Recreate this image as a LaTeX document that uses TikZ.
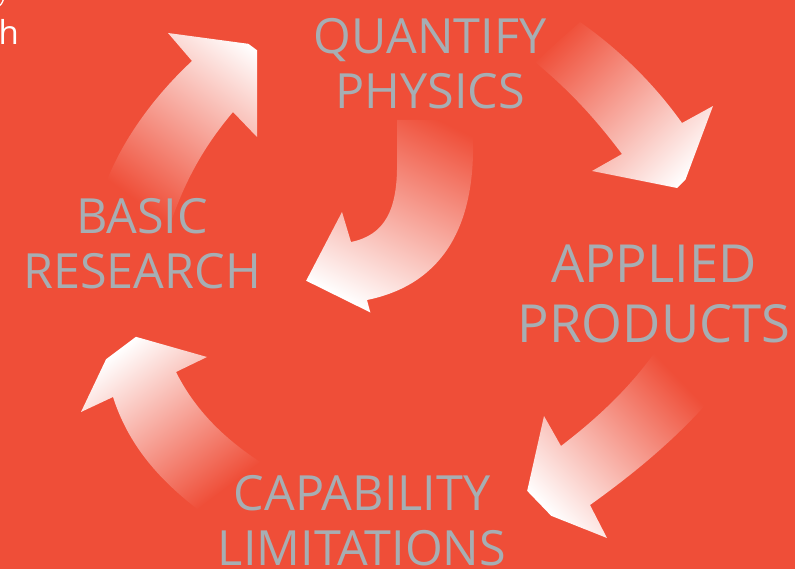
\documentclass[tikz,border=0pt]{standalone}
\usepackage{fontspec}
\setmainfont{Open Sans}
\definecolor{bg}{RGB}{239,78,56}
\definecolor{lbl}{RGB}{166,174,179}
\newcommand\fadearrow[4]{%
  \begin{scope}
    \clip #1;
    \begin{scope}[transform canvas={shift={#2},rotate=#3}]
      \shade[left color=bg,right color=white] (0,-300) rectangle (#4,300);
    \end{scope}
  \end{scope}}
\tikzset{
  lab/.style={text=lbl, align=center, inner sep=0pt, font=\fontsize{48.5}{55}\selectfont},
  labbig/.style={lab, font=\fontsize{52.5}{60}\selectfont}
}
\begin{document}
\begin{tikzpicture}[x=1pt,y=-1pt]
\useasboundingbox (0,0) rectangle (795,569);
\fill[bg] (0,0) rectangle (795,569);
\clip (0,0) rectangle (795,569);

% arrows
\fadearrow{(192,61) -- (168,33) -- (257,45) -- (257,137) -- (233,112) .. controls (205,145) and (185,180) .. (170,225) -- (100,200) .. controls (115,150) and (150,100) .. (192,61) -- cycle}{(135,200)}{53.4}{193}
\fadearrow{(682,123) -- (713,106) -- (682,189) -- (592,171) -- (622,154) .. controls (600,125) and (575,95) .. (535,62) -- (580,22) .. controls (620,50) and (655,85) .. (682,123) -- cycle}{(555,40)}{-45}{191}
\fadearrow{(397,120) -- (473,120) -- (473,140) .. controls (475,230) and (440,285) .. (367,300) -- (375,330) -- (306,281) -- (342,212) -- (351,242) .. controls (385,235) and (398,210) .. (397,160) -- cycle}{(435,118)}{-116.3}{203}
\fadearrow{(561,446) -- (544,416) -- (524,505) -- (607,538) -- (590,505) .. controls (625,480) and (670,445) .. (708,402) -- (655,352) .. controls (628,390) and (595,420) .. (561,446) -- cycle}{(680,380)}{-136.1}{187}
\fadearrow{(113,397) -- (81,412) -- (119,332) -- (207,357) -- (176,372) .. controls (195,410) and (225,440) .. (265,465) -- (205,515) .. controls (165,485) and (130,450) .. (113,397) -- cycle}{(230,485)}{126.9}{175}

% labels
\node[lab] (qp) at (430,64) {QUANTIFY\\PHYSICS};
\node[lab] (br) at (142,244) {BASIC\\RESEARCH};
\node[labbig] (ap) at (654,294) {APPLIED\\PRODUCTS};
\node[lab] (cl) at (362,521) {CAPABILITY\\LIMITATIONS};

% top-left fragments
\node[text=white, inner sep=0pt, anchor=base west, font=\fontsize{33}{33}\selectfont] (hh) at (-1.5,45) {h};
\draw[white, line width=1.3pt] (-2,7) .. controls (0.5,5.5) and (2.5,3) .. (3.5,-1);
\end{tikzpicture}
\end{document}
